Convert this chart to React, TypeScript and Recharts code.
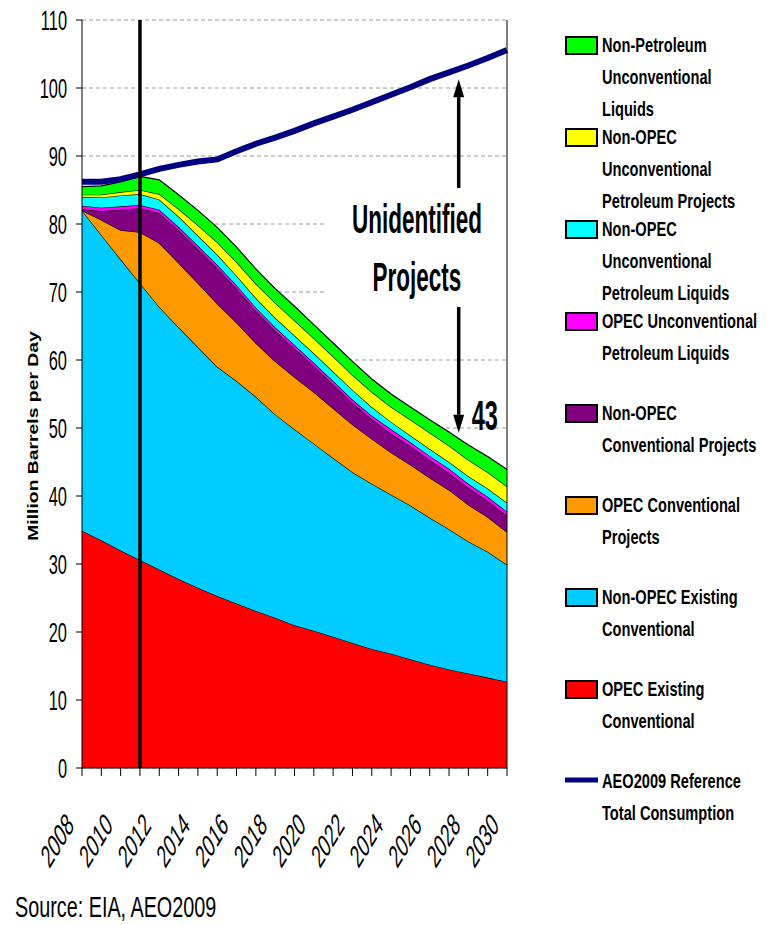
import {
  ComposedChart,
  Area,
  Line,
  XAxis,
  YAxis,
  CartesianGrid,
  ReferenceLine,
  ReferenceArea,
} from "recharts";

const FONT = '"Liberation Sans", Arial, Helvetica, sans-serif';

const YEARS = [
  2008, 2009, 2010, 2011, 2012, 2013, 2014, 2015, 2016, 2017, 2018, 2019,
  2020, 2021, 2022, 2023, 2024, 2025, 2026, 2027, 2028, 2029, 2030,
];
const LABELED_YEARS = [2008, 2010, 2012, 2014, 2016, 2018, 2020, 2022, 2024, 2026, 2028, 2030];
const Y_TICKS = [0, 10, 20, 30, 40, 50, 60, 70, 80, 90, 100, 110];

// million barrels per day, stacked bottom -> top
const OPEC_EXISTING = [34.9, 33.5, 32.0, 30.6, 29.2, 27.8, 26.5, 25.3, 24.2, 23.1, 22.1, 21.0, 20.2, 19.3, 18.4, 17.5, 16.8, 16.0, 15.2, 14.5, 13.9, 13.3, 12.7];
const NON_OPEC_EXISTING = [47.1, 44.9, 42.8, 40.7, 38.6, 37.0, 35.4, 33.7, 32.7, 31.5, 29.9, 28.8, 27.5, 26.3, 25.1, 24.3, 23.4, 22.6, 21.6, 20.6, 19.4, 18.5, 17.2];
const OPEC_CONV_PROJECTS = [0, 2.2, 4.3, 7.5, 9.4, 9.5, 9.4, 9.3, 8.6, 7.9, 7.8, 7.7, 7.6, 7.3, 7.0, 6.6, 6.2, 6.0, 5.9, 5.8, 5.4, 5.1, 4.8];
const NON_OPEC_CONV_PROJECTS = [0.2, 1.3, 3.0, 3.5, 4.4, 4.8, 5.0, 5.2, 5.0, 4.7, 4.5, 4.2, 3.8, 3.5, 3.2, 2.9, 2.8, 2.7, 2.6, 2.5, 2.5, 2.4, 2.4];
const OPEC_UNCONV_LIQUIDS = [0.5, 0.5, 0.5, 0.5, 0.5, 0.5, 0.5, 0.5, 0.5, 0.5, 0.5, 0.5, 0.5, 0.5, 0.5, 0.5, 0.6, 0.6, 0.6, 0.6, 0.6, 0.6, 0.6];
const NON_OPEC_UNCONV_LIQUIDS = [1.3, 1.5, 1.6, 1.6, 1.5, 1.5, 1.5, 1.5, 1.4, 1.4, 1.4, 1.4, 1.4, 1.4, 1.4, 1.3, 1.1, 1.0, 1.0, 1.0, 1.1, 1.2, 1.3];
const NON_OPEC_UNCONV_PROJECTS = [0.3, 0.4, 0.5, 0.6, 0.8, 1.1, 1.5, 1.8, 2.0, 2.1, 2.2, 2.2, 2.2, 2.2, 2.2, 2.2, 2.2, 2.3, 2.4, 2.4, 2.4, 2.4, 2.4];
const NON_PETROLEUM_UNCONV = [1.2, 1.3, 1.5, 2.0, 2.1, 2.1, 2.2, 2.2, 2.2, 2.2, 2.1, 2.1, 2.0, 2.0, 2.0, 1.9, 1.9, 1.9, 1.9, 2.0, 2.2, 2.3, 2.5];
const AEO2009_CONSUMPTION = [86.2, 86.2, 86.6, 87.3, 88.1, 88.7, 89.2, 89.5, 90.7, 91.8, 92.7, 93.7, 94.8, 95.8, 96.8, 97.9, 99.0, 100.1, 101.3, 102.3, 103.3, 104.4, 105.6];

const SERIES = [
  { key: "opecExisting", values: OPEC_EXISTING, color: "#FF0000", lines: ["OPEC Existing", "Conventional"] },
  { key: "nonOpecExisting", values: NON_OPEC_EXISTING, color: "#00CCFF", lines: ["Non-OPEC Existing", "Conventional"] },
  { key: "opecConvProjects", values: OPEC_CONV_PROJECTS, color: "#FF9900", lines: ["OPEC Conventional", "Projects"] },
  { key: "nonOpecConvProjects", values: NON_OPEC_CONV_PROJECTS, color: "#800080", lines: ["Non-OPEC", "Conventional Projects"] },
  { key: "opecUnconvLiquids", values: OPEC_UNCONV_LIQUIDS, color: "#FF00FF", lines: ["OPEC Unconventional", "Petroleum Liquids"] },
  { key: "nonOpecUnconvLiquids", values: NON_OPEC_UNCONV_LIQUIDS, color: "#00FFFF", lines: ["Non-OPEC", "Unconventional", "Petroleum Liquids"] },
  { key: "nonOpecUnconvProjects", values: NON_OPEC_UNCONV_PROJECTS, color: "#FFFF00", lines: ["Non-OPEC", "Unconventional", "Petroleum Projects"] },
  { key: "nonPetroleum", values: NON_PETROLEUM_UNCONV, color: "#00FF00", lines: ["Non-Petroleum", "Unconventional", "Liquids"] },
];

const data = YEARS.map((year, i) => {
  const row: any = { year, consumption: AEO2009_CONSUMPTION[i] };
  SERIES.forEach((s) => (row[s.key] = s.values[i]));
  return row;
});

const LeftTick = ({ x, y, payload }: any) => (
  <text transform={`translate(${x},${y}) scale(0.82,1.37)`} textAnchor="end" dy="0.36em" fontSize={20} fontFamily={FONT} fill="#000">
    {payload.value}
  </text>
);

const RightTick = ({ x, y, payload }: any) => (
  <text transform={`translate(${x},${y}) scale(0.82,1.37)`} textAnchor="start" dy="0.36em" fontSize={20} fontFamily={FONT} fill="#000">
    {payload.value}
  </text>
);

const YearTick = ({ x, y, payload }: any) => {
  if (!LABELED_YEARS.includes(payload.value)) return null;
  return (
    <text
      transform={`translate(${x - 7},${y + 49}) scale(1,1.65) rotate(-45) scale(0.82,1)`}
      textAnchor="end"
      fontSize={20}
      fontFamily={FONT}
      fill="#000"
    >
      {payload.value}
    </text>
  );
};

const Arrow = ({ x1, y1, x2, y2, text }: any) => {
  const dir = y2 < y1 ? -1 : 1;
  const head = 18;
  return (
    <g>
      <line x1={x1} y1={y1} x2={x2} y2={y2 - dir * head} stroke="#000" strokeWidth={3.5} />
      <polygon points={`${x2},${y2} ${x2 - 5.5},${y2 - dir * head} ${x2 + 5.5},${y2 - dir * head}`} fill="#000" />
      {text && (
        <text transform={`translate(${x2 + 13},${y2 - 3}) scale(0.84,1.5)`} fontSize={28} fontWeight="bold" fontFamily={FONT} fill="#000">
          {text}
        </text>
      )}
    </g>
  );
};

const UnidentifiedLabel = ({ viewBox }: any) => {
  const cx = viewBox.x + viewBox.width / 2;
  return (
    <g fontFamily={FONT} fontWeight="bold" fontSize={30} fill="#000">
      <text transform={`translate(${cx},${viewBox.y + 43}) scale(0.75,1.35)`} textAnchor="middle">
        Unidentified
      </text>
      <text transform={`translate(${cx},${viewBox.y + 101}) scale(0.75,1.35)`} textAnchor="middle">
        Projects
      </text>
    </g>
  );
};

const LegendBlock = () => {
  const entries = [...SERIES].reverse();
  return (
    <g fontFamily={FONT} fontWeight="bold" fontSize={17} fill="#000">
      {entries.map((s, i) => {
        const base = 52 + i * 92;
        return (
          <g key={s.key}>
            <rect x={566} y={base - 15} width={31} height={17} fill={s.color} stroke="#000" strokeWidth={2} />
            {s.lines.map((t, j) => (
              <text key={j} transform={`translate(602,${base + j * 32}) scale(0.86,1.22)`}>
                {t}
              </text>
            ))}
          </g>
        );
      })}
      <line x1={565} x2={598} y1={780} y2={780} stroke="#000080" strokeWidth={5} />
      <text transform="translate(602,788) scale(0.86,1.22)">AEO2009 Reference</text>
      <text transform="translate(602,820) scale(0.86,1.22)">Total Consumption</text>
    </g>
  );
};

export default function App() {
  return (
    <div style={{ position: "absolute", left: 0, top: 0, width: 774, height: 925, background: "#fff" }}>
      <ComposedChart width={774} height={925} data={data} margin={{ top: 20, right: 207, bottom: 57, left: 22 }}>
        <CartesianGrid vertical={false} stroke="#999" strokeDasharray="4 3" />
        <XAxis
          dataKey="year"
          type="number"
          domain={[2008, 2030]}
          ticks={YEARS}
          interval={0}
          height={100}
          tickSize={8}
          axisLine={{ stroke: "#000" }}
          tickLine={{ stroke: "#000" }}
          tick={<YearTick />}
        />
        <YAxis
          domain={[0, 110]}
          ticks={Y_TICKS}
          interval={0}
          width={60}
          tickSize={6}
          tickMargin={9}
          axisLine={{ stroke: "#000" }}
          tickLine={{ stroke: "#000" }}
          tick={<LeftTick />}
        />
        <YAxis
          yAxisId="r"
          orientation="right"
          domain={[0, 110]}
          ticks={Y_TICKS}
          interval={0}
          width={60}
          tickSize={7}
          tickMargin={7}
          axisLine={{ stroke: "#000" }}
          tickLine={{ stroke: "#000" }}
          tick={<RightTick />}
        />
        {SERIES.map((s) => (
          <Area
            key={s.key}
            dataKey={s.key}
            stackId="supply"
            type="linear"
            fill={s.color}
            fillOpacity={1}
            stroke="#000"
            strokeWidth={1.2}
            isAnimationActive={false}
          />
        ))}
        <Line dataKey="consumption" type="linear" stroke="#000080" strokeWidth={6} dot={false} isAnimationActive={false} />
        <ReferenceArea x1={2020.68} x2={2030} y1={68.8} y2={85} fill="#fff" fillOpacity={1} stroke="none" label={(p: any) => <UnidentifiedLabel {...p} />} />
        <ReferenceLine x={2011} stroke="#000" strokeWidth={3.5} />
        <ReferenceLine
          segment={[{ x: 2027.5, y: 85.3 }, { x: 2027.5, y: 101.3 }]}
          shape={(p: any) => <Arrow {...p} />}
        />
        <ReferenceLine
          segment={[{ x: 2027.5, y: 67.8 }, { x: 2027.5, y: 49.3 }]}
          shape={(p: any) => <Arrow {...p} text="43" />}
        />
      </ComposedChart>
      <svg width={774} height={925} style={{ position: "absolute", left: 0, top: 0, pointerEvents: "none" }}>
        <text transform="translate(33,436) rotate(-90) scale(1.29,1)" textAnchor="middle" dy="0.35em" fontSize={15} fontWeight="bold" fontFamily={FONT} fill="#000">
          Million Barrels per Day
        </text>
        <LegendBlock />
        <text transform="translate(15,917) scale(0.9,1.3)" fontSize={22} fontFamily={FONT} fill="#000">
          Source: EIA, AEO2009
        </text>
      </svg>
    </div>
  );
}
